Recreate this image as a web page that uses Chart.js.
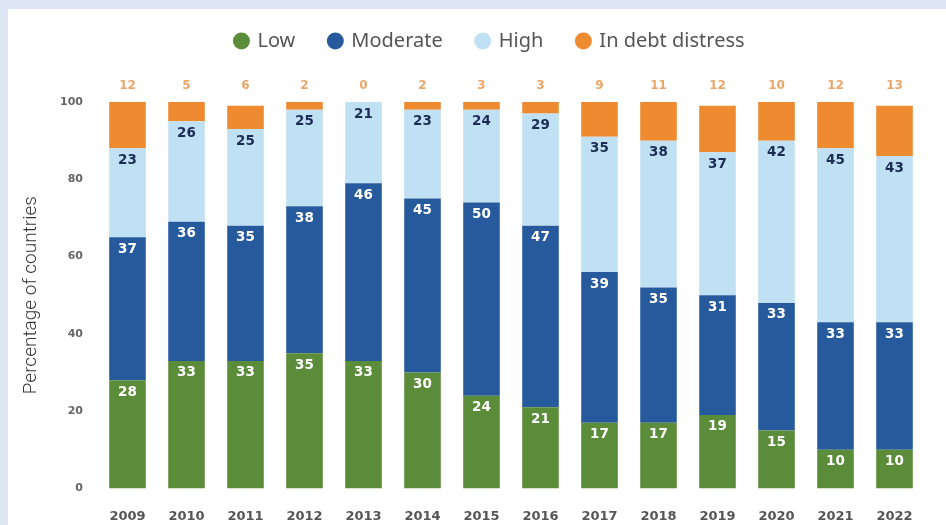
<!DOCTYPE html>
<html>
<head>
<meta charset="utf-8">
<script src="https://cdn.jsdelivr.net/npm/chart.js@4.4.0/dist/chart.umd.min.js"></script>
<style>
  html, body { margin: 0; padding: 0; background: #dce7f3; }
  #panel { position: absolute; left: 8px; top: 9px; width: 938px; height: 516px; background: #fff; }
  canvas { display: block; }
</style>
</head>
<body>
<div id="panel"><canvas id="chart" width="938" height="516" style="width:938px;height:516px"></canvas></div>
<script>
// shares of countries by risk of debt distress (%)
const years = ['2009', '2010', '2011', '2012', '2013', '2014', '2015', '2016', '2017', '2018', '2019', '2020', '2021', '2022'];
const low = [28, 33, 33, 35, 33, 30, 24, 21, 17, 17, 19, 15, 10, 10];
const moderate = [37, 36, 35, 38, 46, 45, 50, 47, 39, 35, 31, 33, 33, 33];
const high = [23, 26, 25, 25, 21, 23, 24, 29, 35, 38, 37, 42, 45, 43];
const distress = [12, 5, 6, 2, 0, 2, 3, 3, 9, 11, 12, 10, 12, 13];
const yTicks = [0, 20, 40, 60, 80, 100];

const colors = {
  low: '#5b8c39',
  moderate: '#265a9c',
  high: '#c0e0f4',
  distress: '#ee8a2f'
};

// value labels: inside the segments, and the distress count above each bar
const segmentLabels = {
  id: 'segmentLabels',
  afterDatasetsDraw(chart) {
    const ctx = chart.ctx;
    const yScale = chart.scales.y;
    const topY = yScale.getPixelForValue(yTicks[yTicks.length - 1]);
    ctx.save();
    ctx.textAlign = 'center';
    ctx.textBaseline = 'middle';
    chart.data.datasets.forEach((ds, i) => {
      const meta = chart.getDatasetMeta(i);
      meta.data.forEach((bar, j) => {
        const v = ds.data[j];
        if (i === 3) {
          ctx.font = 'bold 12px "DejaVu Sans"';
          ctx.fillStyle = '#eaa66a';
          ctx.fillText(v, bar.x, topY - 16);
        } else {
          ctx.font = 'bold 13.5px "DejaVu Sans"';
          ctx.fillStyle = i === 2 ? '#1d2c55' : '#ffffff';
          ctx.fillText(v, bar.x, Math.max(bar.y, topY) + 12);
        }
      });
    });
    ctx.restore();
  }
};

// legend sits a bit right of centre and higher than its padding puts it
const legendShift = {
  id: 'legendShift',
  afterLayout(chart) {
    const lg = chart.legend;
    if (lg) {
      lg.left += 24;
      lg.right += 24;
      lg.top -= 12;
      lg.bottom -= 12;
    }
  }
};

new Chart(document.getElementById('chart'), {
  type: 'bar',
  data: {
    labels: years,
    datasets: [
      { label: 'Low', data: low, backgroundColor: colors.low },
      { label: 'Moderate', data: moderate, backgroundColor: colors.moderate },
      { label: 'High', data: high, backgroundColor: colors.high },
      { label: 'In debt distress', data: distress, backgroundColor: colors.distress }
    ]
  },
  options: {
    responsive: false,
    animation: false,
    layout: { padding: { top: 0, left: 0, right: 22, bottom: -19 } },
    datasets: {
      bar: { borderWidth: 0, barPercentage: 0.62, categoryPercentage: 1, clip: 0 }
    },
    scales: {
      x: {
        stacked: true,
        grid: { display: false, drawTicks: false },
        border: { display: false },
        ticks: { color: '#555', padding: 20, font: { family: 'DejaVu Sans', size: 13, weight: 'bold' } }
      },
      y: {
        stacked: true,
        min: 0,
        max: 100,
        afterBuildTicks(scale) { scale.ticks = yTicks.map(v => ({ value: v })); },
        afterFit(scale) { scale.width = 90; },
        grid: { display: false, drawTicks: false },
        border: { display: false },
        ticks: { color: '#666', padding: 15, font: { family: 'DejaVu Sans', size: 11, weight: 'bold' } },
        title: {
          display: true,
          text: 'Percentage of countries',
          color: '#333',
          padding: { top: 12, bottom: 0 },
          font: { family: 'Roboto', size: 19, weight: '300' }
        }
      }
    },
    plugins: {
      legend: {
        position: 'top',
        labels: {
          usePointStyle: true,
          pointStyle: 'circle',
          boxWidth: 12,
          boxHeight: 12,
          padding: 34,
          color: '#555',
          font: { family: 'Noto Sans', size: 20 }
        }
      },
      title: {
        display: true,
        text: '',
        weight: 500,
        padding: { top: 0, bottom: 17 },
        font: { size: 10 }
      },
      tooltip: { enabled: false }
    }
  },
  plugins: [segmentLabels, legendShift]
});
</script>
</body>
</html>
